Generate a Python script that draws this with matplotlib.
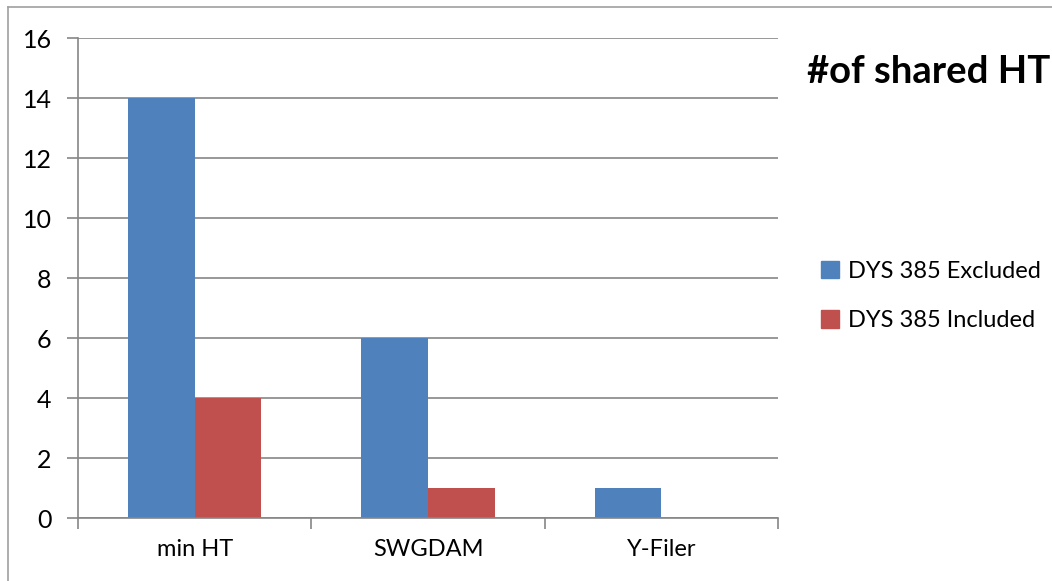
import matplotlib.pyplot as plt
import matplotlib.patches as mpatches
import numpy as np

# Shared haplotype counts per marker set
categories = ['min HT', 'SWGDAM', 'Y-Filer']
excluded = [14, 6, 1]
included = [4, 1, 0]
series_names = ['DYS 385 Excluded', 'DYS 385 Included']
colors = ['#4F81BD', '#C0504D']

plt.rcParams['font.family'] = ['Lato', 'DejaVu Sans']
grid_color = '#868686'

fig = plt.figure(figsize=(10.52, 5.81), dpi=100)
# Plot area in pixel terms: x 78..778, y 38..518
ax = fig.add_axes([78 / 1052, 1 - 518 / 581, 700 / 1052, 480 / 581])

x = np.arange(len(categories))
w = 1 / 3.5
ax.bar(x - w / 2, excluded, w, color=colors[0])
ax.bar(x + w / 2, included, w, color=colors[1])

ax.set_xlim(-0.5, len(categories) - 0.5)
ax.set_ylim(0, 16)
ax.set_yticks(range(0, 17, 2))
ax.yaxis.grid(True, color=grid_color, linewidth=1.2)
ax.set_axisbelow(True)

# Category boundaries carry the tick marks, labels sit at the centres
ax.set_xticks(np.arange(-0.5, len(categories)), minor=False)
ax.set_xticklabels([])
ax.set_xticks(x, minor=True)
ax.set_xticklabels(categories, minor=True, fontsize=17)
ax.tick_params(axis='x', which='minor', length=0, pad=15)
ax.tick_params(axis='x', which='major', length=8, width=1.2, color=grid_color)
ax.tick_params(axis='y', length=8, width=1.2, color=grid_color, labelsize=18, pad=11)

for side in ['top', 'right']:
    ax.spines[side].set_visible(False)
for side in ['left', 'bottom']:
    ax.spines[side].set_color(grid_color)
    ax.spines[side].set_linewidth(1.2)

fig.text(807 / 1052, 1 - 72 / 581, '#of shared HT', fontsize=27.5, fontweight='bold',
         va='center', ha='left')

handles = [mpatches.Patch(color=c) for c in colors]
fig.legend(handles, series_names, loc='center left', bbox_to_anchor=(800 / 1052, 1 - 296 / 581),
           frameon=False, fontsize=17, handlelength=0.75, handleheight=0.75,
           handletextpad=0.4, labelspacing=1.2)

# Outer chart frame, partly cut off at right and bottom
fig.add_artist(plt.Line2D([8 / 1052, 8 / 1052], [0, 1 - 7 / 581], color='#A0A0A0',
                          linewidth=1.2, transform=fig.transFigure))
fig.add_artist(plt.Line2D([8 / 1052, 1], [1 - 7 / 581, 1 - 7 / 581], color='#A0A0A0',
                          linewidth=1.2, transform=fig.transFigure))

fig.savefig('out.png', dpi=100)
